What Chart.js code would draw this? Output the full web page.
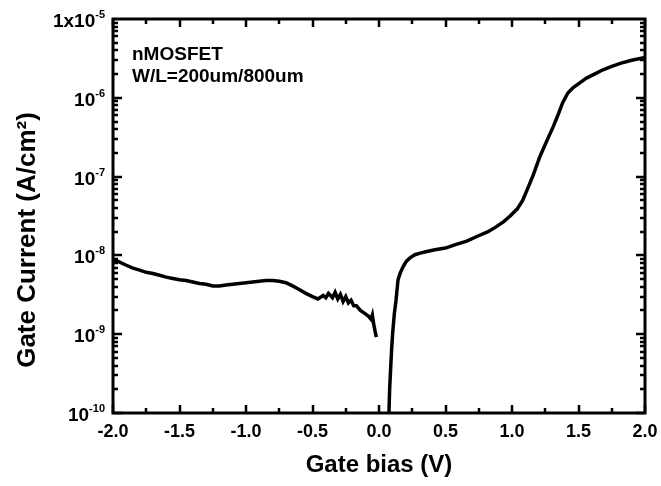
<!DOCTYPE html>
<html>
<head>
<meta charset="utf-8">
<script src="https://cdn.jsdelivr.net/npm/chart.js@4.4.0/dist/chart.umd.min.js"></script>
<style>
  html, body { margin: 0; padding: 0; background: #fff; }
  #wrap { width: 661px; height: 486px; }
</style>
</head>
<body>
<div id="wrap"><canvas id="gateChart"></canvas></div>
<script>
// negative bias branch (V, A/cm2)
const negBias = [-2.00, -1.95, -1.90, -1.85, -1.80, -1.75, -1.70, -1.65, -1.60, -1.55,
  -1.50, -1.45, -1.40, -1.35, -1.30, -1.25, -1.20, -1.15, -1.10, -1.05,
  -1.00, -0.95, -0.90, -0.85, -0.80, -0.75, -0.70, -0.65, -0.60, -0.55,
  -0.50, -0.46, -0.42, -0.40, -0.38, -0.35, -0.33, -0.31, -0.29, -0.27,
  -0.25, -0.23, -0.21, -0.19, -0.17, -0.14, -0.11, -0.08, -0.06, -0.05,
  -0.04, -0.03, -0.02];
const negCurrent = [8.9e-9, 8.2e-9, 7.5e-9, 6.9e-9, 6.5e-9, 6.1e-9, 5.9e-9, 5.6e-9, 5.3e-9, 5.1e-9,
  4.9e-9, 4.8e-9, 4.6e-9, 4.4e-9, 4.3e-9, 4.1e-9, 4.1e-9, 4.2e-9, 4.3e-9, 4.4e-9,
  4.5e-9, 4.6e-9, 4.7e-9, 4.8e-9, 4.8e-9, 4.7e-9, 4.5e-9, 4.1e-9, 3.7e-9, 3.3e-9,
  3.0e-9, 2.8e-9, 3.1e-9, 2.9e-9, 3.3e-9, 2.9e-9, 3.4e-9, 2.8e-9, 3.2e-9, 2.6e-9,
  3.0e-9, 2.5e-9, 2.7e-9, 2.3e-9, 2.3e-9, 2.0e-9, 1.85e-9, 1.7e-9, 1.55e-9, 1.75e-9,
  1.35e-9, 1.1e-9, 0.92e-9];

// positive bias branch
const posBias = [0.073, 0.080, 0.088, 0.095, 0.103, 0.115, 0.128, 0.143, 0.16, 0.18,
  0.205, 0.233, 0.27, 0.31, 0.36, 0.42, 0.50, 0.58, 0.66, 0.74,
  0.82, 0.88, 0.94, 0.99, 1.04, 1.08, 1.12, 1.16, 1.21, 1.26,
  1.31, 1.35, 1.38, 1.42, 1.46, 1.51, 1.56, 1.62, 1.68, 1.75,
  1.82, 1.90, 2.00];
const posCurrent = [8e-11, 2.0e-10, 3.8e-10, 6.5e-10, 1.05e-9, 1.8e-9, 2.7e-9, 4.9e-9, 6.0e-9, 7.1e-9,
  8.4e-9, 9.3e-9, 1.02e-8, 1.07e-8, 1.12e-8, 1.18e-8, 1.24e-8, 1.38e-8, 1.52e-8, 1.75e-8,
  2.0e-8, 2.3e-8, 2.7e-8, 3.2e-8, 3.9e-8, 5.0e-8, 7.2e-8, 1.05e-7, 1.8e-7, 2.8e-7,
  4.3e-7, 6.3e-7, 8.6e-7, 1.15e-6, 1.35e-6, 1.55e-6, 1.78e-6, 2.0e-6, 2.25e-6, 2.5e-6,
  2.75e-6, 3.0e-6, 3.25e-6];

// tick labels
const xTickValues = [-2, -1.5, -1, -0.5, 0, 0.5, 1, 1.5, 2];
const yDecades = [-10, -9, -8, -7, -6, -5];
const yTickBase = ["10", "10", "10", "10", "10", "1x10"];
const yTickExp = ["-10", "-9", "-8", "-7", "-6", "-5"];

const FONT = '"Liberation Sans", Arial, sans-serif';

const points = [];
negBias.forEach((v, i) => points.push({ x: v, y: negCurrent[i] }));
points.push({ x: 0.03, y: null }); // gap between the two branches
posBias.forEach((v, i) => points.push({ x: v, y: posCurrent[i] }));

// frame, inward ticks, y labels, notes
const framePlugin = {
  id: "frame",
  afterDraw(chart) {
    const ctx = chart.ctx;
    const a = chart.chartArea;
    const xs = chart.scales.x;
    const ys = chart.scales.y;
    ctx.save();
    ctx.strokeStyle = "#000";
    ctx.lineWidth = 3;
    ctx.strokeRect(a.left, a.top, a.right - a.left, a.bottom - a.top);

    ctx.lineWidth = 2.5;
    ctx.beginPath();
    for (let k = 0; k <= 16; k++) {
      const v = -2 + k * 0.25;
      const px = Math.round(xs.getPixelForValue(v));
      const len = k % 2 === 0 ? 8 : 5;
      ctx.moveTo(px, a.bottom); ctx.lineTo(px, a.bottom - len);
      ctx.moveTo(px, a.top); ctx.lineTo(px, a.top + len);
    }
    yDecades.slice(0, -1).forEach(d => {
      for (let m = 1; m <= 9; m++) {
        const py = Math.round(ys.getPixelForValue(m * Math.pow(10, d)));
        const len = m === 1 ? 9 : 5;
        ctx.moveTo(a.left, py); ctx.lineTo(a.left + len, py);
        ctx.moveTo(a.right, py); ctx.lineTo(a.right - len, py);
      }
    });
    ctx.stroke();

    // y tick labels with superscript exponents
    ctx.fillStyle = "#000";
    ctx.textAlign = "left";
    ctx.textBaseline = "alphabetic";
    yDecades.forEach((d, i) => {
      const py = ys.getPixelForValue(Math.pow(10, d));
      ctx.font = "bold 19px " + FONT;
      const wb = ctx.measureText(yTickBase[i]).width;
      ctx.font = "bold 11px " + FONT;
      const we = ctx.measureText(yTickExp[i]).width;
      const x0 = a.left - 8 - wb - we;
      ctx.font = "bold 19px " + FONT;
      ctx.fillText(yTickBase[i], x0, py + 8);
      ctx.font = "bold 11px " + FONT;
      ctx.fillText(yTickExp[i], x0 + wb, py - 1);
    });

    // y axis title
    ctx.save();
    ctx.translate(28, 240);
    ctx.rotate(-Math.PI / 2);
    ctx.textAlign = "center";
    ctx.textBaseline = "middle";
    ctx.font = "bold 26px " + FONT;
    ctx.fillText("Gate Current (A/cm\u00b2)", 0, 0);
    ctx.restore();

    // device notes
    ctx.font = "bold 19px " + FONT;
    ctx.textAlign = "left";
    ctx.fillText("nMOSFET", a.left + 19, a.top + 41);
    ctx.fillText("W/L=200um/800um", a.left + 19, a.top + 63);
    ctx.restore();
  }
};

const ctx = document.getElementById("gateChart");
new Chart(ctx, {
  type: "line",
  data: {
    datasets: [{
      label: "Gate current",
      data: points,
      borderColor: "#000",
      borderWidth: 3.5,
      pointRadius: 0,
      tension: 0,
      spanGaps: false,
      fill: false,
      clip: 0
    }]
  },
  options: {
    responsive: true,
    maintainAspectRatio: false,
    animation: false,
    devicePixelRatio: 1,
    layout: { padding: { top: 19, right: 16, left: 0, bottom: 0 } },
    plugins: {
      legend: { display: false },
      tooltip: { enabled: false }
    },
    scales: {
      x: {
        type: "linear",
        min: -2,
        max: 2,
        afterFit: s => { s.height = 73; s.paddingLeft = 0; s.paddingRight = 0; },
        afterBuildTicks: s => { s.ticks = xTickValues.map(v => ({ value: v })); },
        grid: { display: false, drawTicks: false },
        border: { display: false },
        ticks: {
          color: "#000",
          padding: 8,
          maxRotation: 0,
          autoSkip: false,
          font: { family: FONT, size: 18, weight: "bold" },
          callback: v => Number(v).toFixed(1)
        },
        title: {
          display: true,
          text: "Gate bias (V)",
          color: "#000",
          font: { family: FONT, size: 24, weight: "bold" },
          padding: { top: 0, bottom: 6 }
        }
      },
      y: {
        type: "logarithmic",
        min: 1e-10,
        max: 1e-5,
        afterFit: s => { s.width = 113; },
        grid: { display: false, drawTicks: false },
        border: { display: false },
        ticks: { display: false }
      }
    }
  },
  plugins: [framePlugin]
});
</script>
</body>
</html>
